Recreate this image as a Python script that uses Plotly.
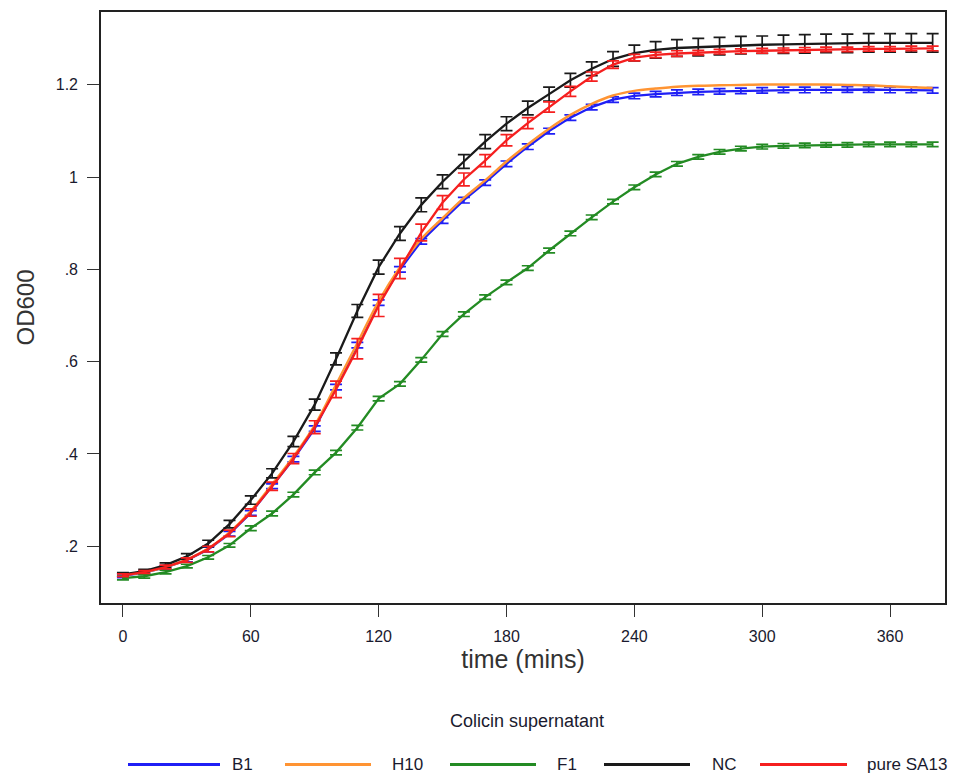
import plotly.graph_objects as go

# Sampling times (minutes)
time_min = [0, 10, 20, 30, 40, 50, 60, 70, 80, 90, 100, 110, 120, 130, 140, 150,
            160, 170, 180, 190, 200, 210, 220, 230, 240, 250, 260, 270, 280, 290,
            300, 310, 320, 330, 340, 350, 360, 370, 380]

# Mean OD600 per colicin supernatant
od_b1 = [0.136, 0.143, 0.154, 0.170, 0.193, 0.227, 0.272, 0.330, 0.389, 0.455,
         0.545, 0.636, 0.728, 0.800, 0.861, 0.906, 0.950, 0.988, 1.029, 1.066,
         1.100, 1.129, 1.152, 1.168, 1.176, 1.180, 1.183, 1.185, 1.186, 1.187,
         1.188, 1.189, 1.189, 1.189, 1.190, 1.190, 1.189, 1.189, 1.188]
od_h10 = [0.137, 0.144, 0.155, 0.171, 0.195, 0.230, 0.276, 0.334, 0.394, 0.462,
          0.550, 0.640, 0.731, 0.805, 0.866, 0.911, 0.955, 0.993, 1.034, 1.071,
          1.105, 1.135, 1.159, 1.177, 1.187, 1.192, 1.196, 1.198, 1.199, 1.200,
          1.201, 1.201, 1.201, 1.201, 1.200, 1.199, 1.197, 1.195, 1.193]
od_f1 = [0.131, 0.135, 0.144, 0.157, 0.176, 0.202, 0.239, 0.271, 0.312, 0.360,
         0.403, 0.457, 0.520, 0.552, 0.604, 0.660, 0.703, 0.740, 0.772, 0.803,
         0.841, 0.878, 0.913, 0.947, 0.978, 1.006, 1.029, 1.044, 1.055, 1.062,
         1.066, 1.068, 1.069, 1.070, 1.070, 1.071, 1.071, 1.071, 1.071]
od_nc = [0.139, 0.146, 0.159, 0.178, 0.206, 0.248, 0.300, 0.358, 0.427, 0.507,
         0.606, 0.710, 0.805, 0.878, 0.940, 0.990, 1.034, 1.077, 1.116, 1.150,
         1.180, 1.210, 1.235, 1.256, 1.269, 1.276, 1.280, 1.282, 1.284, 1.286,
         1.287, 1.288, 1.289, 1.290, 1.290, 1.291, 1.291, 1.291, 1.291]
od_sa13 = [0.137, 0.144, 0.155, 0.170, 0.194, 0.228, 0.273, 0.330, 0.390, 0.458,
           0.540, 0.628, 0.722, 0.802, 0.880, 0.945, 0.995, 1.036, 1.080, 1.117,
           1.152, 1.186, 1.218, 1.244, 1.259, 1.265, 1.268, 1.270, 1.272, 1.273,
           1.274, 1.275, 1.276, 1.277, 1.277, 1.278, 1.278, 1.279, 1.279]

# Half-widths of the error bars
err_b1 = [0.004, 0.004, 0.004, 0.004, 0.005, 0.005, 0.005, 0.005, 0.006, 0.006,
          0.006, 0.006, 0.006, 0.006, 0.006, 0.006, 0.006, 0.006, 0.006, 0.006,
          0.006, 0.006, 0.006, 0.006, 0.006, 0.006, 0.006, 0.006, 0.006, 0.006,
          0.006, 0.006, 0.006, 0.006, 0.006, 0.006, 0.006, 0.006, 0.006]
err_f1 = [0.004, 0.004, 0.004, 0.004, 0.004, 0.004, 0.005, 0.005, 0.005, 0.005,
          0.005, 0.005, 0.005, 0.005, 0.005, 0.005, 0.005, 0.005, 0.005, 0.005,
          0.005, 0.005, 0.005, 0.005, 0.005, 0.005, 0.005, 0.005, 0.005, 0.005,
          0.005, 0.005, 0.005, 0.005, 0.005, 0.005, 0.005, 0.005, 0.005]
err_nc = [0.004, 0.004, 0.005, 0.006, 0.007, 0.008, 0.009, 0.010, 0.011, 0.012,
          0.013, 0.014, 0.015, 0.015, 0.015, 0.015, 0.015, 0.015, 0.015, 0.015,
          0.015, 0.015, 0.015, 0.016, 0.017, 0.018, 0.018, 0.019, 0.019, 0.019,
          0.019, 0.020, 0.020, 0.020, 0.020, 0.020, 0.020, 0.020, 0.020]
err_sa13 = [0.003, 0.003, 0.004, 0.005, 0.006, 0.007, 0.008, 0.009, 0.011, 0.014,
            0.018, 0.022, 0.024, 0.022, 0.018, 0.015, 0.014, 0.013, 0.012, 0.012,
            0.011, 0.011, 0.010, 0.008, 0.007, 0.006, 0.006, 0.005, 0.005, 0.005,
            0.005, 0.005, 0.005, 0.005, 0.005, 0.005, 0.005, 0.005, 0.005]

series_names = ["B1", "H10", "F1", "NC", "pure SA13"]
series_colors = ["#1f1ff5", "#ff9433", "#238b23", "#1a1a1a", "#f51f1f"]
series_values = [od_b1, od_h10, od_f1, od_nc, od_sa13]
series_errors = [err_b1, None, err_f1, err_nc, err_sa13]

x_ticks = [0, 60, 120, 180, 240, 300, 360]
y_ticks = [0.2, 0.4, 0.6, 0.8, 1.0, 1.2]
y_tick_text = [".2", ".4", ".6", ".8", "1", "1.2"]

FONT = "Liberation Sans, Arial, sans-serif"
TEXT = "#1a1a2e"

fig = go.Figure()
for name, color, vals, errs in zip(series_names, series_colors, series_values, series_errors):
    kw = {}
    if errs is not None:
        kw["error_y"] = dict(type="data", array=errs, visible=True,
                             color=color, thickness=1.7, width=6)
    fig.add_trace(go.Scatter(
        x=time_min, y=vals, mode="lines", name=name,
        line=dict(color=color, width=2.5 if errs is None else 2.3,
                  shape="spline" if errs is None else "linear"),
        showlegend=False, **kw))

W, H = 964, 776
L, R, T, B = 101, 19, 10, 173
pw, ph = W - L - R, H - T - B


def px_x(p):
    return (p - L) / pw


def px_y(p):
    return (H - B - p) / ph


# Legend drawn below the plot region
legend_y = 765
legend_lines = [(128, 220), (285, 371), (450, 536), (604, 690), (760, 847)]
legend_text_x = [230, 390, 555, 710, 865]
shapes = []
annotations = []
for (x0, x1), tx, name, color in zip(legend_lines, legend_text_x, series_names, series_colors):
    shapes.append(dict(type="line", xref="paper", yref="paper",
                       x0=px_x(x0), x1=px_x(x1), y0=px_y(legend_y), y1=px_y(legend_y),
                       line=dict(color=color, width=3)))
    annotations.append(dict(xref="paper", yref="paper", x=px_x(tx), y=px_y(legend_y),
                            text=name, showarrow=False, xanchor="left", yanchor="middle",
                            font=dict(family=FONT, size=17, color=TEXT)))
annotations.append(dict(xref="paper", yref="paper", x=px_x(527), y=px_y(721),
                        text="Colicin supernatant", showarrow=False,
                        xanchor="center", yanchor="middle",
                        font=dict(family=FONT, size=18, color=TEXT)))

fig.update_layout(
    width=W, height=H,
    margin=dict(l=L, r=R, t=T, b=B),
    paper_bgcolor="white", plot_bgcolor="white",
    font=dict(family=FONT, color=TEXT),
    shapes=shapes, annotations=annotations,
    xaxis=dict(range=[-10.3, 385.8], tickvals=x_ticks, ticks="outside", ticklen=12,
               tickwidth=1.3, tickcolor="#333", showline=True, mirror=True,
               linecolor="#222", linewidth=1.6, showgrid=False, zeroline=False,
               tickfont=dict(family=FONT, size=16, color=TEXT), ticklabelstandoff=6,
               title=dict(text="time (mins)", standoff=6,
                          font=dict(family=FONT, size=25, color="#333"))),
    yaxis=dict(range=[0.077, 1.358], tickvals=y_ticks, ticktext=y_tick_text,
               ticks="outside", ticklen=12, tickwidth=1.3, tickcolor="#333",
               showline=True, mirror=True, linecolor="#222", linewidth=1.6,
               showgrid=False, zeroline=False,
               tickfont=dict(family=FONT, size=16, color=TEXT), ticklabelstandoff=6,
               title=dict(text="OD600", standoff=14,
                          font=dict(family=FONT, size=24, color="#333"))),
)

fig.write_html("out.html")
